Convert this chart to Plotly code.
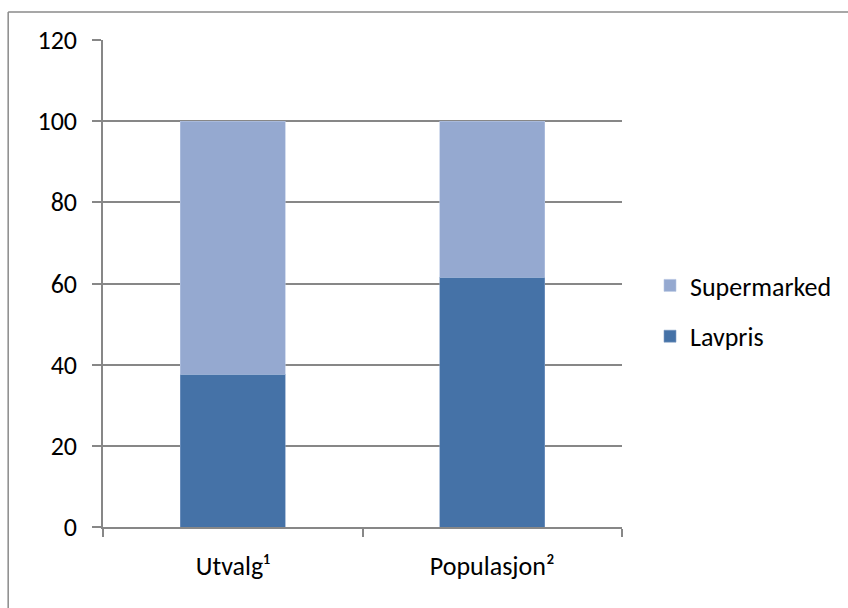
import plotly.graph_objects as go

# Share of stores by type, in percent
categories = ["Utvalg¹", "Populasjon²"]
lavpris = [37.6, 61.6]
supermarked = [62.4, 38.4]

y_ticks = [0, 20, 40, 60, 80, 100, 120]

W, H = 848, 608
ML, MR, MT, MB = 103, 225, 40, 81
PW, PH = W - ML - MR, H - MT - MB

FONT = "Carlito, Lato, 'Open Sans', sans-serif"
FS = 26
GRID = "#878787"

fig = go.Figure()
fig.add_trace(go.Bar(name="Lavpris", x=categories, y=lavpris,
                     legendgroup="l", legendrank=2,
                     marker=dict(color="#4572A7", line=dict(color="#7F9CC4", width=0.6))))
fig.add_trace(go.Bar(name="Supermarked", x=categories, y=supermarked,
                     legendgroup="s", legendrank=1,
                     marker=dict(color="#95A9D0", line=dict(color="#B7C6E2", width=0.6))))


def px_x(px):
    return (px - ML) / PW


def px_y(py):
    return (H - MB - py) / PH


# chart frame (left and top edges)
frame = dict(color="#8A8A8A", width=1.5)
fig.add_shape(type="line", xref="paper", yref="paper",
              x0=px_x(8), x1=px_x(8), y0=px_y(H + 5), y1=px_y(12), line=frame)
fig.add_shape(type="line", xref="paper", yref="paper",
              x0=px_x(8), x1=px_x(W + 5), y0=px_y(12), y1=px_y(12), line=frame)

fig.update_layout(
    width=W, height=H,
    margin=dict(l=ML, r=MR, t=MT, b=MB, pad=0),
    barmode="stack",
    bargap=0.596,
    plot_bgcolor="white",
    paper_bgcolor="white",
    font=dict(family=FONT, size=FS, color="#000000"),
    showlegend=True,
    legend=dict(
        traceorder="grouped",
        tracegroupgap=14,
        x=px_x(650), xanchor="left",
        y=px_y(262), yanchor="top",
        font=dict(family=FONT, size=FS, color="#000000"),
        bgcolor="rgba(0,0,0,0)",
        borderwidth=0,
    ),
    xaxis=dict(
        type="category",
        showgrid=False,
        showline=True, linecolor=GRID, linewidth=1.5,
        ticks="outside", tickson="boundaries", ticklen=8, tickwidth=1.5, tickcolor=GRID,
        ticklabelstandoff=15,
        tickfont=dict(family=FONT, size=FS, color="#000000"),
    ),
    yaxis=dict(
        range=[0, 120],
        tickvals=y_ticks,
        showgrid=True, gridcolor=GRID, gridwidth=1.5,
        zeroline=False,
        showline=True, linecolor=GRID, linewidth=1.5,
        ticks="outside", ticklen=9, tickwidth=1.5, tickcolor=GRID,
        ticklabelstandoff=10,
        tickfont=dict(family=FONT, size=FS, color="#000000"),
    ),
)

fig.write_html("out.html")
